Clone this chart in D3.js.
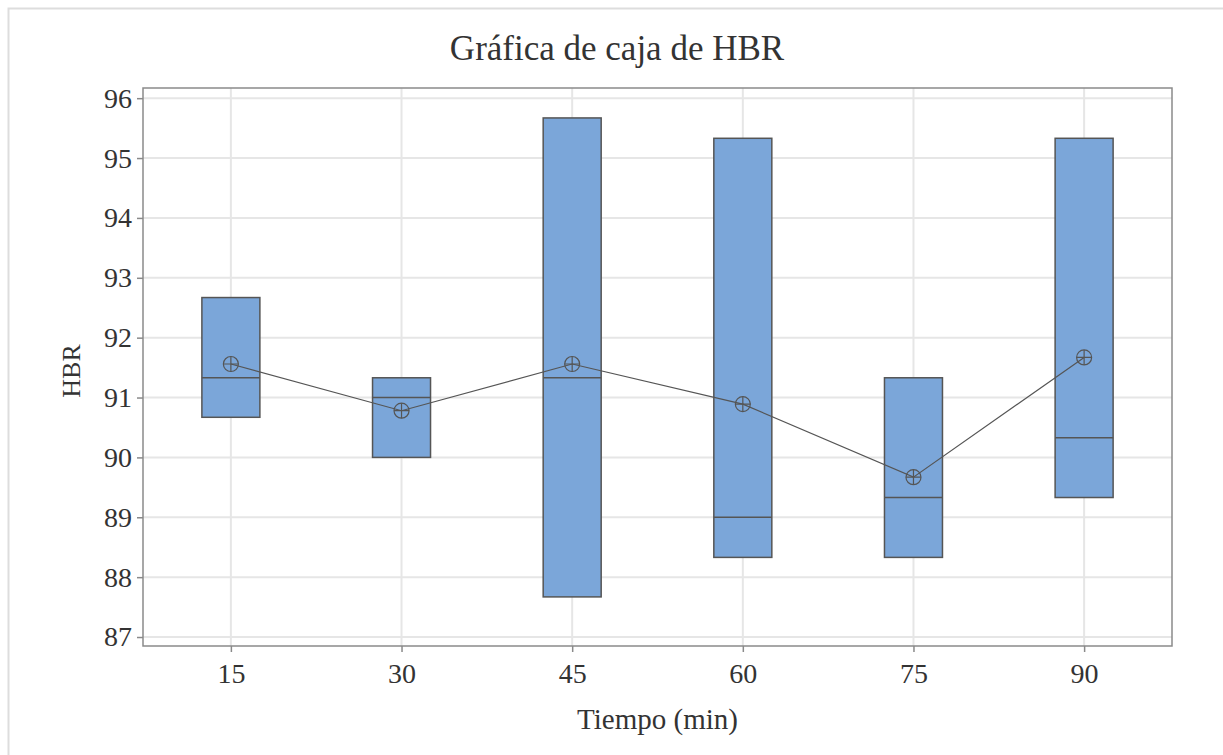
<!DOCTYPE html>
<html>
<head>
<meta charset="utf-8">
<script src="https://cdn.jsdelivr.net/npm/d3@7"></script>
<style>
  body { margin: 0; background: #fff; }
  text { font-family: "Liberation Serif", "Times New Roman", serif; fill: #333; }
</style>
</head>
<body>
<div id="chart"></div>
<script>
// data (Minitab box plot, HBR by time)
const tiempos = ['15', '30', '45', '60', '75', '90']
const q1 = [90.67, 90.0, 87.67, 88.33, 88.33, 89.33]
const mediana = [91.33, 91.0, 91.33, 89.0, 89.33, 90.33]
const q3 = [92.67, 91.33, 95.67, 95.33, 91.33, 95.33]
const media = [91.56, 90.78, 91.56, 90.89, 89.67, 91.67]
const yTicks = [87, 88, 89, 90, 91, 92, 93, 94, 95, 96]

const W = 1223, H = 755
const margin = { top: 88, right: 51, bottom: 109, left: 143 }
const width = W - margin.left - margin.right
const height = H - margin.top - margin.bottom

const svg = d3.select('#chart').append('svg')
  .attr('width', W).attr('height', H)

// outer light frame
svg.append('path')
  .attr('d', `M8.5,${H}V8.5H${W}`)
  .attr('fill', 'none').attr('stroke', '#ddd').attr('stroke-width', 2)

const g = svg.append('g')
  .attr('transform', `translate(${margin.left},${margin.top})`)

const x = d3.scalePoint().domain(tiempos).range([0, width]).padding(0.515)
const y = d3.scaleLinear().domain([86.85, 96.17]).range([height, 0])

// grid
g.append('g').selectAll('line').data(yTicks).enter().append('line')
  .attr('x1', 0).attr('x2', width)
  .attr('y1', d => y(d)).attr('y2', d => y(d))
  .attr('stroke', '#e6e6e6').attr('stroke-width', 2)
g.append('g').selectAll('line').data(tiempos).enter().append('line')
  .attr('x1', d => x(d)).attr('x2', d => x(d))
  .attr('y1', 0).attr('y2', height)
  .attr('stroke', '#e6e6e6').attr('stroke-width', 2)

// frame
g.append('rect')
  .attr('width', width).attr('height', height)
  .attr('fill', 'none').attr('stroke', '#8a8a8a').attr('stroke-width', 1.5)

// axes
const yAxis = g.append('g').call(d3.axisLeft(y).tickValues(yTicks).tickSize(6).tickPadding(5))
const xAxis = g.append('g').attr('transform', `translate(0,${height})`)
  .call(d3.axisBottom(x).tickSize(6).tickPadding(11))
;[yAxis, xAxis].forEach(a => {
  a.select('.domain').remove()
  a.selectAll('line').attr('stroke', '#8a8a8a').attr('stroke-width', 1.5)
  a.selectAll('text').attr('font-size', 28).attr('fill', '#333')
})

// boxes
const boxW = 58
const boxes = g.append('g').selectAll('g').data(tiempos).enter().append('g')
boxes.append('rect')
  .attr('x', d => x(d) - boxW / 2)
  .attr('y', (d, i) => y(q3[i]))
  .attr('width', boxW)
  .attr('height', (d, i) => y(q1[i]) - y(q3[i]))
  .attr('fill', '#7ba6d9').attr('stroke', '#555').attr('stroke-width', 1.5)
boxes.append('line')
  .attr('x1', d => x(d) - boxW / 2).attr('x2', d => x(d) + boxW / 2)
  .attr('y1', (d, i) => y(mediana[i])).attr('y2', (d, i) => y(mediana[i]))
  .attr('stroke', '#555').attr('stroke-width', 1.5)

// mean connect line
const line = d3.line().x(d => x(d[0])).y(d => y(d[1]))
g.append('path')
  .datum(tiempos.map((t, i) => [t, media[i]]))
  .attr('d', line)
  .attr('fill', 'none').attr('stroke', '#555').attr('stroke-width', 1.2)

// mean symbols (circle with cross)
const r = 7.5
const sym = g.append('g').selectAll('g').data(tiempos).enter().append('g')
  .attr('transform', (d, i) => `translate(${x(d)},${y(media[i])})`)
sym.append('circle').attr('r', r)
  .attr('fill', 'none').attr('stroke', '#555').attr('stroke-width', 1.2)
sym.append('path').attr('d', `M${-r},0H${r}M0,${-r}V${r}`)
  .attr('stroke', '#555').attr('stroke-width', 1.2)

// titles
svg.append('text')
  .attr('x', 617).attr('y', 60)
  .attr('text-anchor', 'middle').attr('font-size', 35)
  .text('Gráfica de caja de HBR')
svg.append('text')
  .attr('x', margin.left + width / 2).attr('y', 729)
  .attr('text-anchor', 'middle').attr('font-size', 29)
  .text('Tiempo (min)')
svg.append('text')
  .attr('transform', `translate(80,${margin.top + height / 2 + 4}) rotate(-90)`)
  .attr('text-anchor', 'middle').attr('font-size', 26)
  .text('HBR')
</script>
</body>
</html>
